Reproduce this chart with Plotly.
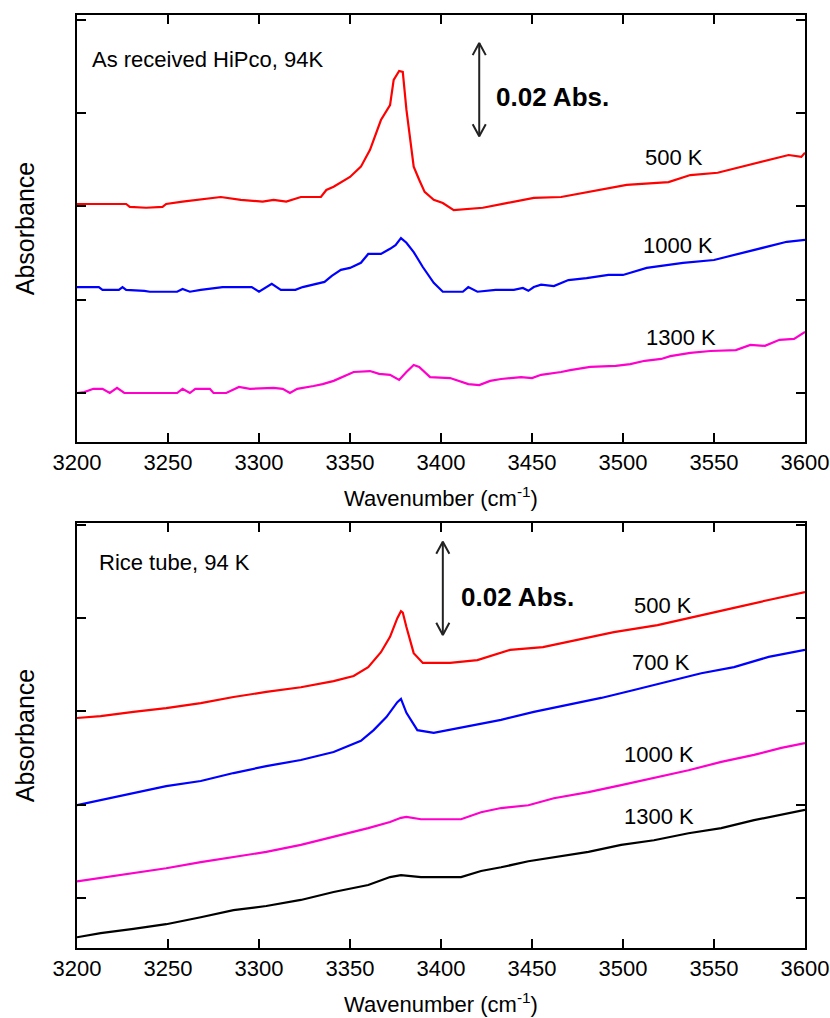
import plotly.graph_objects as go

# ---- Upper panel: as-received HiPco, 94 K ----
top_500_wn = [3200, 3227, 3229, 3238, 3247, 3249, 3258, 3268, 3279, 3290, 3302, 3308, 3315, 3323,
              3334, 3337, 3341, 3350, 3356, 3361, 3367, 3372, 3374, 3377, 3379, 3381, 3385, 3388,
              3391, 3396, 3401, 3407, 3423, 3436, 3451, 3466, 3478, 3502, 3525, 3537, 3552, 3576,
              3591, 3598, 3600]
top_500_abs = [0.0405, 0.0405, 0.0399, 0.0397, 0.0399, 0.0405, 0.0410, 0.0414, 0.0420, 0.0414, 0.0410,
               0.0414, 0.0410, 0.0420, 0.0420, 0.0435, 0.0442, 0.0463, 0.0485, 0.0521, 0.0585, 0.0617,
               0.0671, 0.0690, 0.0688, 0.0607, 0.0485, 0.0457, 0.0431, 0.0414, 0.0407, 0.0392, 0.0397,
               0.0407, 0.0418, 0.0420, 0.0429, 0.0446, 0.0452, 0.0467, 0.0472, 0.0495, 0.0510, 0.0506,
               0.0515]

top_1000_wn = [3200, 3212, 3214, 3223, 3225, 3227, 3237, 3240, 3255, 3258, 3262, 3268, 3280, 3296,
               3300, 3307, 3312, 3320, 3324, 3331, 3336, 3340, 3345, 3350, 3356, 3360, 3367, 3372,
               3375, 3378, 3381, 3385, 3390, 3396, 3401, 3412, 3415, 3420, 3430, 3440, 3445, 3448,
               3451, 3455, 3462, 3470, 3480, 3492, 3500, 3513, 3533, 3550, 3565, 3581, 3590, 3600]
top_1000_abs = [0.0227, 0.0227, 0.0221, 0.0221, 0.0227, 0.0221, 0.0219, 0.0217, 0.0217, 0.0223, 0.0217,
                0.0221, 0.0227, 0.0227, 0.0217, 0.0234, 0.0221, 0.0221, 0.0227, 0.0234, 0.0238, 0.0251,
                0.0264, 0.0268, 0.0279, 0.0298, 0.0298, 0.0309, 0.0317, 0.0332, 0.0322, 0.0302, 0.0270,
                0.0236, 0.0217, 0.0217, 0.0227, 0.0217, 0.0221, 0.0221, 0.0225, 0.0219, 0.0227, 0.0232,
                0.0229, 0.0242, 0.0246, 0.0253, 0.0253, 0.0268, 0.0279, 0.0285, 0.0300, 0.0315, 0.0324,
                0.0328]

top_1300_wn = [3200, 3204, 3209, 3214, 3218, 3222, 3226, 3255, 3258, 3262, 3265, 3273, 3275, 3282,
               3289, 3295, 3308, 3313, 3317, 3321, 3330, 3335, 3341, 3346, 3352, 3361, 3366, 3372,
               3377, 3381, 3385, 3388, 3394, 3405, 3411, 3415, 3421, 3427, 3433, 3444, 3450, 3455,
               3466, 3471, 3482, 3496, 3504, 3512, 3521, 3526, 3537, 3548, 3562, 3570, 3578, 3586,
               3594, 3600]
top_1300_abs = [0.0000, 0.0002, 0.0009, 0.0009, 0.0000, 0.0011, 0.0000, 0.0000, 0.0009, 0.0000, 0.0009,
                0.0009, 0.0000, 0.0000, 0.0013, 0.0009, 0.0011, 0.0009, 0.0000, 0.0009, 0.0015, 0.0019,
                0.0026, 0.0034, 0.0045, 0.0047, 0.0041, 0.0039, 0.0028, 0.0045, 0.0060, 0.0056, 0.0034,
                0.0032, 0.0024, 0.0019, 0.0017, 0.0026, 0.0030, 0.0034, 0.0032, 0.0039, 0.0045, 0.0049,
                0.0056, 0.0058, 0.0062, 0.0069, 0.0073, 0.0079, 0.0086, 0.0090, 0.0092, 0.0103, 0.0101,
                0.0114, 0.0116, 0.0131]

# ---- Lower panel: Rice tube, 94 K ----
bot_500_wn = [3200, 3213, 3231, 3249, 3268, 3286, 3304, 3323, 3341, 3352, 3360, 3367, 3372, 3376,
              3378, 3379, 3381, 3385, 3390, 3405, 3420, 3438, 3456, 3475, 3495, 3519, 3543, 3561,
              3580, 3600]
bot_500_abs = [0.0386, 0.0390, 0.0399, 0.0407, 0.0418, 0.0431, 0.0442, 0.0452, 0.0465, 0.0476, 0.0495,
               0.0527, 0.0560, 0.0600, 0.0615, 0.0612, 0.0581, 0.0525, 0.0504, 0.0504, 0.0510, 0.0532,
               0.0538, 0.0553, 0.0570, 0.0585, 0.0607, 0.0622, 0.0639, 0.0656]

bot_700_wn = [3200, 3213, 3231, 3249, 3268, 3286, 3304, 3323, 3341, 3356, 3363, 3370, 3376, 3378,
              3381, 3387, 3396, 3414, 3433, 3451, 3469, 3488, 3506, 3524, 3543, 3561, 3580, 3600]
bot_700_abs = [0.0199, 0.0210, 0.0225, 0.0240, 0.0251, 0.0268, 0.0283, 0.0296, 0.0313, 0.0337, 0.0360,
               0.0388, 0.0420, 0.0427, 0.0397, 0.0360, 0.0354, 0.0367, 0.0382, 0.0399, 0.0414, 0.0429,
               0.0446, 0.0463, 0.0482, 0.0495, 0.0517, 0.0532]

bot_1000_wn = [3200, 3213, 3231, 3249, 3268, 3286, 3304, 3323, 3341, 3360, 3372, 3378, 3381, 3389,
               3411, 3422, 3433, 3448, 3462, 3481, 3499, 3517, 3536, 3554, 3572, 3587, 3600]
bot_1000_abs = [0.0036, 0.0043, 0.0054, 0.0064, 0.0077, 0.0088, 0.0099, 0.0114, 0.0131, 0.0150, 0.0163,
                0.0172, 0.0174, 0.0169, 0.0169, 0.0184, 0.0193, 0.0199, 0.0214, 0.0227, 0.0242, 0.0257,
                0.0274, 0.0292, 0.0307, 0.0322, 0.0332]

bot_1300_wn = [3200, 3213, 3231, 3249, 3268, 3286, 3304, 3323, 3341, 3360, 3372, 3378, 3389, 3411,
               3422, 3433, 3448, 3462, 3481, 3499, 3517, 3536, 3554, 3572, 3587, 3600]
bot_1300_abs = [-0.0084, -0.0075, -0.0066, -0.0056, -0.0041, -0.0026, -0.0017, -0.0004, 0.0013, 0.0028,
                0.0045, 0.0049, 0.0045, 0.0045, 0.0058, 0.0066, 0.0079, 0.0088, 0.0099, 0.0114, 0.0124,
                0.0139, 0.0150, 0.0167, 0.0178, 0.0189]

x_ticks = [3200, 3250, 3300, 3350, 3400, 3450, 3500, 3550, 3600]
y_ticks = [0.0, 0.02, 0.04, 0.06, 0.08]
scale_bar = 0.02  # absorbance represented by the vertical double arrow

RED, BLUE, MAGENTA, BLACK = "#ff0000", "#0000ff", "#ff00cc", "#000000"
FONT = "Liberation Sans, Arial, sans-serif"

fig = go.Figure()

series = [
    ("x", "y", top_500_wn, top_500_abs, RED),
    ("x", "y", top_1000_wn, top_1000_abs, BLUE),
    ("x", "y", top_1300_wn, top_1300_abs, MAGENTA),
    ("x2", "y2", bot_500_wn, bot_500_abs, RED),
    ("x2", "y2", bot_700_wn, bot_700_abs, BLUE),
    ("x2", "y2", bot_1000_wn, bot_1000_abs, MAGENTA),
    ("x2", "y2", bot_1300_wn, bot_1300_abs, BLACK),
]
for xa, ya, wn, ab, col in series:
    fig.add_trace(go.Scatter(x=wn, y=ab, xaxis=xa, yaxis=ya, mode="lines",
                             line=dict(color=col, width=2.2), showlegend=False,
                             hoverinfo="skip"))

# 0.02 Abs. scale bars: shaft plus open chevron heads at both ends
head_dx, head_dy = 3.6, 0.0026
for xa, ya, xc, yc in [("x", "y", 3421, 0.0650), ("x2", "y2", 3401, 0.0664)]:
    lo, hi = yc - scale_bar / 2, yc + scale_bar / 2
    fig.add_trace(go.Scatter(
        x=[xc, xc, None, xc - head_dx, xc, xc + head_dx, None, xc - head_dx, xc, xc + head_dx],
        y=[lo, hi, None, hi - head_dy, hi, hi - head_dy, None, lo + head_dy, lo, lo + head_dy],
        xaxis=xa, yaxis=ya, mode="lines", line=dict(color="#222222", width=2),
        showlegend=False, hoverinfo="skip"))

xaxis_style = dict(range=[3200, 3600], tickvals=x_ticks, ticks="inside", ticklen=9, tickwidth=2,
                   tickcolor="black", showline=True, linewidth=2, linecolor="black",
                   mirror="allticks", showgrid=False, zeroline=False, automargin=False,
                   tickfont=dict(family=FONT, size=22, color="black"),
                   title=dict(text="Wavenumber (cm<sup>-1</sup>)", standoff=16,
                              font=dict(family=FONT, size=22, color="black")))
yaxis_style = dict(tickvals=y_ticks, ticks="inside", ticklen=9, tickwidth=2, tickcolor="black",
                   showticklabels=False, showline=True, linewidth=2, linecolor="black",
                   mirror="allticks", showgrid=False, zeroline=False, automargin=False,
                   title=dict(text="Absorbance", standoff=33,
                              font=dict(family=FONT, size=25, color="black")))

fig.update_layout(
    width=830, height=1018,
    margin=dict(l=77, r=25, t=0, b=0, autoexpand=False),
    paper_bgcolor="white", plot_bgcolor="white",
    xaxis=dict(domain=[0, 1], anchor="y", **xaxis_style),
    yaxis=dict(domain=[1 - 442 / 1018, 1 - 15 / 1018], anchor="x", range=[-0.0105, 0.0810],
               **yaxis_style),
    xaxis2=dict(domain=[0, 1], anchor="y2", **xaxis_style),
    yaxis2=dict(domain=[1 - 948 / 1018, 1 - 523 / 1018], anchor="x2", range=[-0.0107, 0.0804],
                **yaxis_style),
)

ann = []
# Panel captions
ann.append(dict(text="As received HiPco, 94K", xref="x", yref="y", x=3207, y=0.0714,
                showarrow=False, xanchor="left", yanchor="middle",
                font=dict(family=FONT, size=22, color="black")))
ann.append(dict(text="Rice tube, 94 K", xref="x2", yref="y2", x=3211, y=0.0720,
                showarrow=False, xanchor="left", yanchor="middle",
                font=dict(family=FONT, size=22, color="black")))

# Temperature labels
temp_labels = [
    ("x", "y", "500 K", 3528, 0.0504),
    ("x", "y", "1000 K", 3530, 0.0317),
    ("x", "y", "1300 K", 3532, 0.0120),
    ("x2", "y2", "500 K", 3522, 0.0628),
    ("x2", "y2", "700 K", 3521, 0.0504),
    ("x2", "y2", "1000 K", 3520, 0.0307),
    ("x2", "y2", "1300 K", 3520, 0.0174),
]
for xr, yr, t, xv, yv in temp_labels:
    ann.append(dict(text=t, xref=xr, yref=yr, x=xv, y=yv, showarrow=False,
                    xanchor="center", yanchor="middle",
                    font=dict(family=FONT, size=22, color="black")))

# Scale-bar labels
for xr, yr, xt, yt in [("x", "y", 3429, 0.0635), ("x2", "y2", 3410, 0.0645)]:
    ann.append(dict(text="<b>0.02 Abs.</b>", xref=xr, yref=yr, x=xt, y=yt, showarrow=False,
                    xanchor="left", yanchor="middle",
                    font=dict(family=FONT, size=26, color="black")))

fig.update_layout(annotations=ann)
fig.write_html("out.html", config={"displayModeBar": False})
